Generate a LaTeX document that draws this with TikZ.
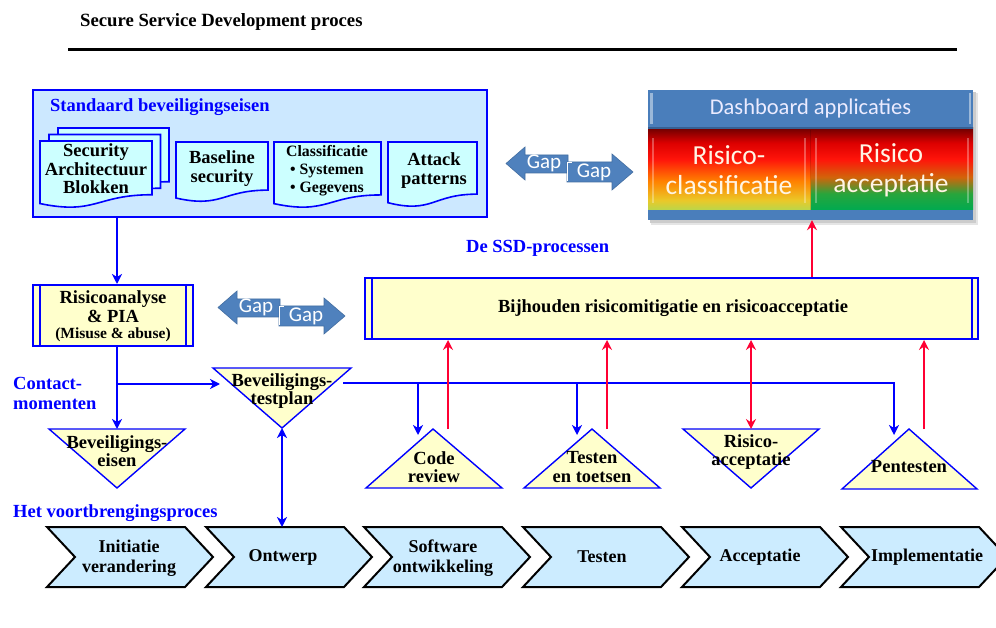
\documentclass[tikz,border=0pt]{standalone}
\usepackage{fontspec}
\setmainfont{Liberation Serif}
\newfontfamily\officesans{Carlito}
\usetikzlibrary{arrows.meta}

\definecolor{linkblue}{RGB}{0,0,255}
\definecolor{framefill}{RGB}{204,232,255}
\definecolor{docfill}{RGB}{204,255,255}
\definecolor{notefill}{RGB}{255,255,204}
\definecolor{stepfill}{RGB}{204,236,255}
\definecolor{gapfill}{RGB}{79,129,189}
\definecolor{alertred}{RGB}{255,0,51}
\definecolor{dashbar}{RGB}{74,126,187}
\definecolor{dashedge}{RGB}{55,96,146}
\definecolor{paneltext}{RGB}{255,244,228}
\definecolor{rlA}{RGB}{185,215,75}
\definecolor{rlB}{RGB}{235,200,40}
\definecolor{rlC}{RGB}{255,130,0}
\definecolor{rlD}{RGB}{255,20,10}
\definecolor{rlE}{RGB}{220,0,0}
\definecolor{rlF}{RGB}{110,0,0}
\definecolor{rrA}{RGB}{0,170,80}
\definecolor{rrB}{RGB}{40,165,60}
\definecolor{rrC}{RGB}{210,100,10}
\definecolor{rrD}{RGB}{255,20,10}
\definecolor{rrE}{RGB}{220,0,0}
\definecolor{rrF}{RGB}{110,0,0}

% TikZ fits a path into the middle half (25bp..75bp) of a 100bp shading
\pgfdeclareverticalshading{riskleft}{100bp}{color(0bp)=(rlA); color(25bp)=(rlA); color(31bp)=(rlB); color(42.5bp)=(rlC); color(56bp)=(rlD); color(66bp)=(rlE); color(75bp)=(rlF); color(100bp)=(rlF)}
\pgfdeclareverticalshading{riskright}{100bp}{color(0bp)=(rrA); color(25bp)=(rrA); color(35bp)=(rrB); color(45bp)=(rrC); color(56bp)=(rrD); color(66bp)=(rrE); color(75bp)=(rrF); color(100bp)=(rrF)}

\newcommand\pxfont[2]{\fontsize{#1}{#2}\selectfont}

% document sheet with a wavy lower edge: left, top, right, height
\newcommand\docsheet[4]{%
  \draw[docbox] (#1,#2) -- (#3,#2) -- (#3,{#2+0.802*#4})
    .. controls ({(#1+#3)/2},{#2+0.802*#4}) and ({(#1+#3)/2},{#2+1.107*#4}) ..
    (#1,{#2+0.934*#4}) -- cycle;}

% process chevron: left edge x
\newcommand\chevron[1]{%
  \draw[stepbox] (#1,527) -- ({#1+138},527) -- ({#1+166},557) -- ({#1+138},587)
    -- (#1,587) -- ({#1+28},557) -- cycle;}

\tikzset{
  bluelink/.style={draw=linkblue, line width=2pt,
    -{Stealth[length=10pt,width=10pt,inset=3pt]}},
  blueboth/.style={draw=linkblue, line width=2pt,
    {Stealth[length=10pt,width=10pt,inset=3pt]}-{Stealth[length=10pt,width=10pt,inset=3pt]}},
  redlink/.style={draw=alertred, line width=1.8pt,
    -{Stealth[length=10pt,width=10pt,inset=3.5pt]}},
  redboth/.style={draw=alertred, line width=1.8pt,
    {Stealth[length=10pt,width=10pt,inset=3.5pt]}-{Stealth[length=10pt,width=10pt,inset=3.5pt]}},
  docbox/.style={draw=linkblue, line width=1.6pt, fill=docfill},
  tribox/.style={draw=linkblue, line width=1.4pt, fill=notefill, line join=miter},
  stepbox/.style={draw=black, line width=2pt, fill=stepfill, line join=miter},
  procbox/.style={draw=linkblue, line width=2pt, fill=notefill, inner sep=0},
  lbl/.style={font=\pxfont{18.5}{18.5}\bfseries, align=center, inner sep=0},
  small/.style={font=\pxfont{15.8}{18}\bfseries, align=center, inner sep=0},
  heading/.style={font=\pxfont{18.5}{20}\bfseries, text=linkblue, inner sep=0, align=left},
  steplbl/.style={font=\pxfont{18}{20}\bfseries, align=center, inner sep=0},
  gaptext/.style={font=\officesans\pxfont{21}{21}, text=white, inner sep=0},
  gapshape/.style={fill=gapfill, draw=gapfill!85!black, line width=0.6pt},
  paneltxt/.style={font=\officesans\pxfont{27.5}{30}, text=paneltext, align=center, inner sep=0},
}

\begin{document}
\begin{tikzpicture}[x=1pt,y=-1pt]
\useasboundingbox (0,0) rectangle (996,628);
\fill[white] (0,0) rectangle (996,628);

% ---------- heading ----------
\node[anchor=base west, font=\pxfont{18.7}{20}\bfseries, inner sep=0] (title) at (80,27) {Secure Service Development proces};
\draw[line width=3pt] (68,50) -- (957,50);

% ---------- standard security requirements ----------
\node[draw=linkblue, line width=2pt, fill=framefill, minimum width=454, minimum height=127, inner sep=0] (std) at (260,153.5) {};
\node[heading, anchor=west] (stdtitle) at (50,107) {Standaard beveiligingseisen};

\docsheet{58}{128}{169}{67}
\docsheet{49}{134.5}{160.5}{67}
\docsheet{40}{141}{152}{67}
\node[lbl] (sab) at (96,169) {Security\\Architectuur\\Blokken};

\docsheet{176}{142}{268}{60}
\node[lbl] (base) at (222,168.5) {Baseline\\security};

\docsheet{274}{142}{381}{66}
\node[small] (cls) at (327,171) {Classificatie\\• Systemen\\• Gegevens};

\docsheet{388}{142}{477}{65}
\node[lbl] (atk) at (434,170.5) {Attack\\patterns};

% ---------- gap arrows ----------
\foreach \dx/\dy/\k in {0/0/1, -288/144/2}{
  \begin{scope}[shift={(\dx,\dy)}]
    \fill[gapshape] (506,163.5) -- (525,147) -- (525,155) -- (568,155) -- (568,173)
      -- (525,173) -- (525,180) -- cycle;
    \node[gaptext] (gapl\k) at (544,163) {Gap};
    \fill[gapshape] (567,162) -- (612,162) -- (612,154) -- (633,172) -- (612,190)
      -- (612,182) -- (567,182) -- cycle;
    \draw[white, line width=0.8pt] (567.5,181) -- (567.5,162.5) -- (572,162.5);
    \node[gaptext] (gapr\k) at (594,172) {Gap};
  \end{scope}
}

% ---------- dashboard ----------
\fill[black!10] (651,93) rectangle (978,225);
\fill[black!20] (650,92) rectangle (976,223);
\node[minimum width=325, minimum height=130, inner sep=0] (dash) at (810.5,155) {};
\fill[dashbar] (648,90) rectangle (973,128);
\fill[white, opacity=0.45] (650,93) rectangle (652.5,124);
\fill[white, opacity=0.45] (968.5,93) rectangle (971,124);
\node[font=\officesans\pxfont{22.5}{22.5}, text=white!92!blue, inner sep=0] (dashtitle) at (810.5,109) {Dashboard applicaties};
\shade[shading=riskleft] (648,128) rectangle (811,210);
\shade[shading=riskright] (811,128) rectangle (973,210);
\shade[shading=riskleft] (648,128) rectangle (810,210);
\fill[white, opacity=0.3] (652,138) rectangle (654,203);
\fill[white, opacity=0.3] (804,138) rectangle (806,203);
\fill[black, opacity=0.15] (809.5,130) rectangle (811,210);
\fill[white, opacity=0.3] (815,138) rectangle (817,203);
\fill[white, opacity=0.3] (967,138) rectangle (969,203);
\fill[dashedge] (648,127) rectangle (973,129);
\fill[dashbar] (648,210) rectangle (973,220);
\node[paneltxt] (rclass) at (729,170) {Risico-\\classificatie};
\node[paneltxt] (racc) at (891,170) {Risico\\acceptatie};

% ---------- SSD processes ----------
\node[heading, anchor=west] (ssdtitle) at (466,248) {De SSD-processen};
\node[procbox, minimum width=613, minimum height=61] (ssd) at (671.5,308.5) {};
\draw[linkblue, line width=1.4pt] ([xshift=8pt]ssd.north west) -- ([xshift=8pt]ssd.south west);
\draw[linkblue, line width=1.4pt] ([xshift=-7pt]ssd.north east) -- ([xshift=-7pt]ssd.south east);
\node[lbl] (ssdtext) at (673,308) {Bijhouden risicomitigatie en risicoacceptatie};

% ---------- risk analysis ----------
\node[procbox, minimum width=160, minimum height=61] (ra) at (113,315.5) {};
\draw[linkblue, line width=1.4pt] ([xshift=8pt]ra.north west) -- ([xshift=8pt]ra.south west);
\draw[linkblue, line width=1.4pt] ([xshift=-8pt]ra.north east) -- ([xshift=-8pt]ra.south east);
\node[lbl] (ratext) at (113,306.5) {Risicoanalyse\\\& PIA};
\node[small, font=\pxfont{15.5}{18}\bfseries] (ramis) at (113,335) {(Misuse \& abuse)};

% ---------- side headings ----------
\node[heading, anchor=west] (contact) at (13,393) {Contact-\\momenten};
\node[heading, anchor=west] (voort) at (13,513) {Het voortbrengingsproces};

% ---------- contact moments ----------
\draw[tribox] (49,429) -- (185,429) -- (117,488) -- cycle;
\coordinate (be-top) at (117,429);
\node[lbl] (be) at (117,451) {Beveiligings-\\eisen};

\draw[tribox] (213,368) -- (351,368) -- (282,428) -- cycle;
\coordinate (tp-w) at (220,384);
\coordinate (tp-e) at (343,383);
\coordinate (tp-s) at (282,428);
\node[lbl] (tp) at (282,391) {Beveiligings-\\testplan};

\draw[tribox] (366,488) -- (502,488) -- (433,429) -- cycle;
\coordinate (cr-in) at (418,435);
\coordinate (cr-out) at (448,429);
\node[lbl] (cr) at (434,467) {Code\\review};

\draw[tribox] (524,488) -- (660,488) -- (592,429) -- cycle;
\coordinate (ts-in) at (577,435);
\coordinate (ts-out) at (607,429);
\node[lbl] (ts) at (592,467) {Testen\\en toetsen};

\draw[tribox] (683,429) -- (819,429) -- (751,488) -- cycle;
\coordinate (acc-top) at (751,429);
\node[lbl] (acc) at (751,452) {Risico-\\acceptatie};

\draw[tribox] (842,489) -- (977,489) -- (909,429) -- cycle;
\coordinate (pt-in) at (894,435);
\coordinate (pt-out) at (924,429);
\node[lbl] (pt) at (909,467) {Pentesten};

% ---------- development chain ----------
\chevron{47}
\chevron{206}
\chevron{364}
\chevron{523}
\chevron{682}
\chevron{841}
\coordinate (ontwerp-top) at (282,527);
\node[steplbl] (ch1) at (129,558) {Initiatie\\verandering};
\node[steplbl] (ch2) at (283,557) {Ontwerp};
\node[steplbl] (ch3) at (443,558) {Software\\ontwikkeling};
\node[steplbl] (ch4) at (602,557) {Testen};
\node[steplbl] (ch5) at (760,557) {Acceptatie};
\node[steplbl] (ch6) at (927,557) {Implementatie};

% ---------- blue flow ----------
\coordinate (stem) at (117,0);
\coordinate (fork) at (117,384);
\draw[bluelink] (std.south -| stem) -- (ra.north -| stem);
\draw[bluelink] (ra.south -| stem) -- (be-top);
\draw[bluelink] (fork) -- (tp-w);
\draw[bluelink] (tp-e) -| (pt-in);
\draw[bluelink] (cr-in |- tp-e) -- (cr-in);
\draw[bluelink] (ts-in |- tp-e) -- (ts-in);
\draw[blueboth] (tp-s) -- (ontwerp-top);

% ---------- red feedback ----------
\draw[redlink] (cr-out) -- (cr-out |- ssd.south);
\draw[redlink] (ts-out) -- (ts-out |- ssd.south);
\draw[redboth] (acc-top |- ssd.south) -- (acc-top);
\draw[redlink] (pt-out) -- (pt-out |- ssd.south);
\coordinate (dash-in) at (812,0);
\draw[redlink] (ssd.north -| dash-in) -- (dash.south -| dash-in);
\end{tikzpicture}
\end{document}
